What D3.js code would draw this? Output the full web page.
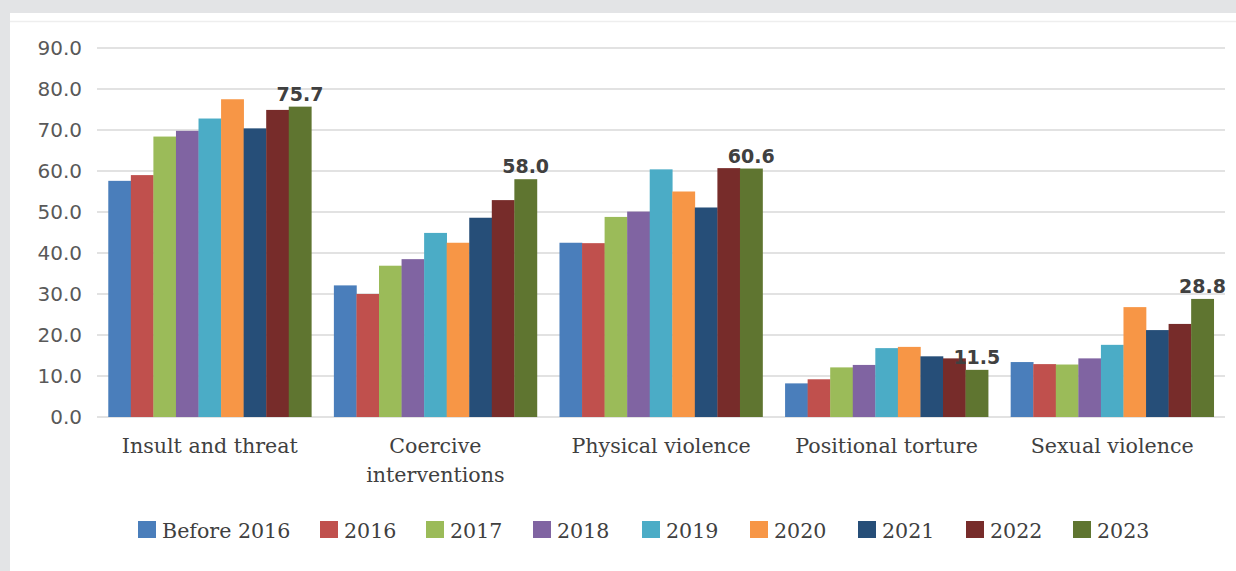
<!DOCTYPE html>
<html>
<head>
<meta charset="utf-8">
<script src="https://cdn.jsdelivr.net/npm/d3@7"></script>
<style>
  html, body { margin: 0; padding: 0; background: #e3e4e6; }
  svg { display: block; }
</style>
</head>
<body>
<svg id="chart" width="1236" height="571"></svg>
<script>
// categories and series
const categories = [
    ["Insult and threat"],
    ["Coercive", "interventions"],
    ["Physical violence"],
    ["Positional torture"],
    ["Sexual violence"]
];
const years = ["Before 2016", "2016", "2017", "2018", "2019", "2020", "2021", "2022", "2023"];
const colors = ["#4a7ebb", "#c0504d", "#9bbb59", "#8064a2", "#4bacc6", "#f79646", "#264e78", "#772c2a", "#5f7530"];

// values per year, in category order
const before2016 = [57.6, 32.1, 42.5, 8.2, 13.4];
const y2016 = [59.0, 30.0, 42.4, 9.2, 12.9];
const y2017 = [68.4, 36.9, 48.8, 12.1, 12.8];
const y2018 = [69.8, 38.5, 50.1, 12.7, 14.3];
const y2019 = [72.8, 44.9, 60.4, 16.8, 17.6];
const y2020 = [77.5, 42.5, 55.0, 17.1, 26.8];
const y2021 = [70.4, 48.6, 51.1, 14.8, 21.2];
const y2022 = [74.9, 52.9, 60.7, 14.3, 22.7];
const y2023 = [75.7, 58.0, 60.6, 11.5, 28.8];
const series = [before2016, y2016, y2017, y2018, y2019, y2020, y2021, y2022, y2023];

const yTicks = [0, 10, 20, 30, 40, 50, 60, 70, 80, 90];

const svg = d3.select("#chart");

// white panel
svg.append("rect")
    .attr("x", 10).attr("y", 13)
    .attr("width", 1226).attr("height", 558)
    .attr("fill", "#ffffff");
svg.append("line")
    .attr("x1", 10).attr("x2", 1236)
    .attr("y1", 21.5).attr("y2", 21.5)
    .attr("stroke", "#eeeeee").attr("stroke-width", 1.5);

const catKeys = categories.map(c => c.join(" "));

const x0 = d3.scaleBand()
    .domain(catKeys)
    .range([97, 1225])
    .paddingInner(0.1)
    .paddingOuter(0.05);

const x1 = d3.scaleBand()
    .domain(years)
    .range([0, x0.bandwidth()]);

const y = d3.scaleLinear()
    .domain([0, 90])
    .range([417, 48]);

// gridlines
svg.append("g")
    .attr("class", "grid")
    .selectAll("line")
    .data(yTicks)
    .join("line")
    .attr("x1", 97)
    .attr("x2", 1225)
    .attr("y1", d => y(d))
    .attr("y2", d => y(d))
    .attr("stroke", "#d9d9d9")
    .attr("stroke-width", 1.5);

// y tick labels
svg.append("g")
    .attr("font-family", "'DejaVu Sans', Verdana, sans-serif")
    .attr("font-size", 20)
    .attr("fill", "#595959")
    .attr("text-anchor", "end")
    .selectAll("text")
    .data(yTicks)
    .join("text")
    .attr("x", 82)
    .attr("y", d => y(d) + 7)
    .text(d => d.toFixed(1));

// bars
const groups = svg.append("g")
    .selectAll("g")
    .data(catKeys)
    .join("g")
    .attr("transform", d => `translate(${x0(d)},0)`);

groups.selectAll("rect")
    .data((d, ci) => years.map((yr, si) => ({year: yr, si, value: series[si][ci]})))
    .join("rect")
    .attr("x", d => x1(d.year))
    .attr("width", x1.bandwidth() + 0.3)
    .attr("y", d => y(d.value))
    .attr("height", d => y(0) - y(d.value))
    .attr("fill", d => colors[d.si]);

// 2023 value labels
svg.append("g")
    .attr("font-family", "'DejaVu Sans', Verdana, sans-serif")
    .attr("font-weight", "bold")
    .attr("font-size", 19)
    .attr("fill", "#404040")
    .attr("text-anchor", "middle")
    .selectAll("text")
    .data(catKeys)
    .join("text")
    .attr("x", (d, i) => x0(d) + x1("2023") + x1.bandwidth() / 2)
    .attr("y", (d, i) => y(y2023[i]) - 6)
    .text((d, i) => y2023[i].toFixed(1));

// category labels
const catLabels = svg.append("g")
    .attr("font-family", "'DejaVu Serif', serif")
    .attr("font-size", 20.6)
    .attr("fill", "#404040")
    .attr("text-anchor", "middle")
    .selectAll("text")
    .data(categories)
    .join("text")
    .attr("x", (d, i) => x0(catKeys[i]) + x0.bandwidth() / 2)
    .attr("y", 453);

catLabels.selectAll("tspan")
    .data(d => d)
    .join("tspan")
    .attr("x", function() { return d3.select(this.parentNode).attr("x"); })
    .attr("dy", (d, i) => i === 0 ? 0 : 29)
    .text(d => d);

// legend
const legendX = [138, 320, 426, 533, 642, 750, 858, 966, 1073];
const legend = svg.append("g")
    .attr("font-family", "'DejaVu Serif', serif")
    .attr("font-size", 20.6)
    .attr("fill", "#404040")
    .selectAll("g")
    .data(years)
    .join("g")
    .attr("transform", (d, i) => `translate(${legendX[i]},521)`);

legend.append("rect")
    .attr("width", 18)
    .attr("height", 17)
    .attr("fill", (d, i) => colors[i]);

legend.append("text")
    .attr("x", 24)
    .attr("y", 17)
    .text(d => d);
</script>
</body>
</html>
